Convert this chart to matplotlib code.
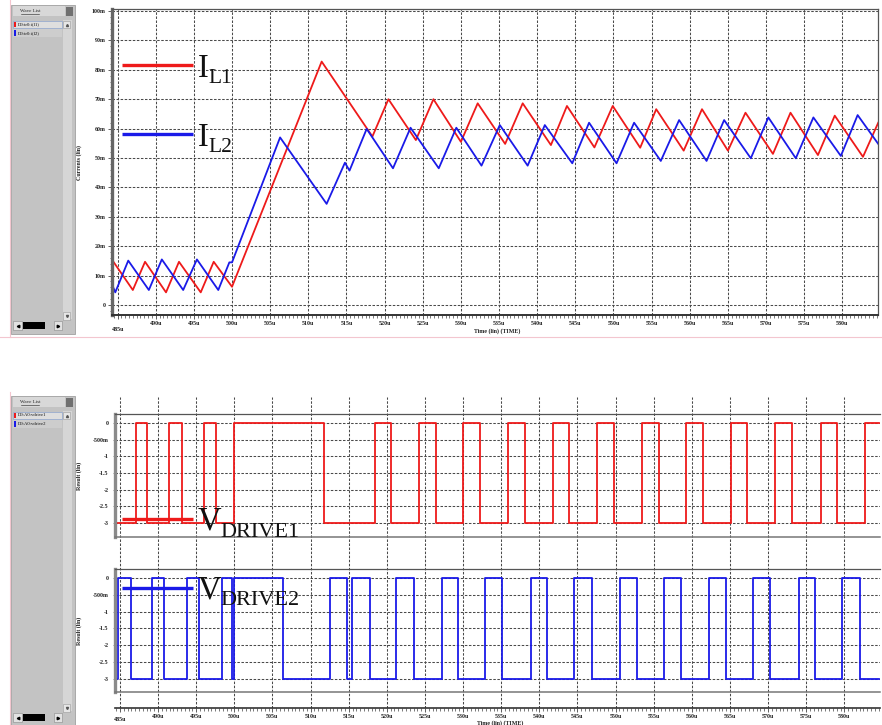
import matplotlib
matplotlib.use('Agg')
import matplotlib.pyplot as plt
from matplotlib.patches import Rectangle
from matplotlib.ticker import MultipleLocator

W, H = 882, 725

# ---- values (time in us, current in mA, voltage in V)
# inductor currents, corner points of the triangle waves
il1_t = [484.3, 487.0, 488.6, 491.35, 493.05, 495.9, 497.6, 500.0, 511.75, 518.4,
         520.5, 524.1, 526.4, 530.0, 532.2, 535.8, 538.1, 541.8, 543.9, 547.5,
         549.9, 553.5, 555.6, 559.2, 561.6, 565.0, 567.3, 570.9, 573.2, 576.8,
         579.0, 582.7, 584.7]
il1_i = [15.3, 5.1, 14.7, 4.3, 14.7, 4.3, 14.7, 6.2, 82.8, 57.3,
         70.0, 56.1, 70.0, 55.5, 68.6, 54.8, 68.6, 54.4, 67.7, 53.6,
         67.7, 53.5, 66.6, 52.5, 66.6, 52.5, 65.4, 51.4, 65.4, 51.0,
         64.4, 50.4, 62.0]

il2_t = [484.3, 484.7, 486.4, 489.1, 490.8, 493.6, 495.4, 498.2, 499.65, 500.0,
         506.3, 512.4, 514.8, 515.4, 517.65, 521.1, 523.4, 527.1, 529.4, 532.7,
         535.1, 538.75, 541.0, 544.6, 546.8, 550.4, 552.7, 556.2, 558.6, 562.2,
         564.5, 568.0, 570.3, 573.9, 576.2, 579.8, 582.0, 584.7]
il2_i = [6.8, 4.3, 15.1, 5.1, 15.5, 5.1, 15.5, 5.1, 14.5, 14.5,
         57.0, 34.4, 48.4, 45.7, 59.9, 46.5, 60.3, 46.5, 60.3, 47.4,
         61.2, 47.4, 61.2, 48.2, 62.0, 48.2, 62.0, 49.0, 62.9, 49.0,
         62.9, 49.9, 63.8, 49.9, 63.8, 50.7, 64.6, 54.8]

# gate drive edges (low = -3 V, high = 0 V)
drive1_rise = [487.07, 491.44, 496.0, 500.0, 518.45, 524.2, 530.0, 535.85, 541.85,
               547.6, 553.5, 559.3, 565.2, 570.95, 576.9, 582.75]
drive1_fall = [488.5, 493.1, 497.6, 511.76, 520.5, 526.4, 532.2, 538.1, 543.95,
               549.8, 555.65, 561.5, 567.3, 573.2, 579.0]
drive2_rise = [484.8, 489.25, 493.8, 498.35, 500.0, 512.55, 515.4, 521.2, 527.2,
               532.9, 538.9, 544.55, 550.55, 556.3, 562.2, 568.0, 574.0, 579.7]
drive2_fall = [486.45, 490.8, 495.4, 499.75, 506.4, 514.75, 517.8, 523.5, 529.4,
               535.15, 541.05, 546.9, 552.8, 558.6, 564.5, 570.3, 576.2, 582.0]

time_ticks = list(range(485, 581, 5))
time_labels = ['%du' % t for t in time_ticks]
cur_ticks = list(range(0, 101, 10))
cur_labels = ['0'] + ['%dm' % c for c in cur_ticks[1:]]
volt_ticks = [0, -0.5, -1, -1.5, -2, -2.5, -3]
volt_labels = ['0', '-500m', '-1', '-1.5', '-2', '-2.5', '-3']

RED = '#ee1a1a'
BLUE = '#1a1ae8'
GRID = dict(color='#4a4a4a', linestyle=(0, (2.4, 1.5)), linewidth=0.75)
TICKFONT = dict(family='Liberation Serif', weight='bold', size=4.3, color='#222')
SERIF = 'Liberation Serif'
LW = 1.3


def square_wave(rises, falls, t0, t1, lo=-3.0, hi=0.0):
    edges = sorted([(t, hi) for t in rises] + [(t, lo) for t in falls])
    t, v = [t0], [lo]
    for te, lvl in edges:
        t += [te, te]
        v += [v[-1], lvl]
    t.append(t1)
    v.append(v[-1])
    return t, v


def px_axes(fig, l, t, r, b, **kw):
    # axes placed by pixel box (left, top, right, bottom)
    return fig.add_axes([l / W, 1 - b / H, (r - l) / W, (b - t) / H], **kw)


def time_axis(ax, label_y):
    ax.set_xticks(time_ticks, [''] + time_labels[1:], **TICKFONT)
    ax.xaxis.set_minor_locator(MultipleLocator(0.5))
    # first label sits a little lower in the original viewer
    ax.text(time_ticks[0], label_y, time_labels[0], transform=ax.get_xaxis_transform(),
            ha='center', va='top', **TICKFONT)


def wave_list(cv, y0, y1, names, colors):
    cv.add_patch(Rectangle((11, y0), 64, y1 - y0, fc='#c3c3c3', ec='#a0a0a0', lw=0.6))
    cv.add_patch(Rectangle((12.5, y0 + 1), 52, 10, fc='#d8d8d8', ec='none'))
    cv.text(30, y0 + 6, 'Wave List', fontsize=3.6, family=SERIF, ha='center',
            va='center', color='#222')
    cv.plot([21, 39], [y0 + 8.6] * 2, color='#222', lw=0.4)
    cv.add_patch(Rectangle((66, y0 + 1.5), 7, 9, fc='#707070', ec='none'))
    cv.add_patch(Rectangle((62.5, y0 + 15), 9.5, y1 - y0 - 30, fc='#d6d6d6', ec='none'))
    for k, (name, col) in enumerate(zip(names, colors)):
        ry = y0 + 15.5 + k * 8.5
        cv.add_patch(Rectangle((13, ry), 49, 7.5, fc='#dedede' if k == 0 else '#cdcdcd',
                               ec='#8fa6cf' if k == 0 else 'none', lw=0.5))
        cv.add_patch(Rectangle((13.5, ry + 1), 2.8, 5.5, fc=col, ec='none'))
        cv.text(17.5, ry + 3.9, name, fontsize=3.4, family=SERIF, va='center', color='#111')
    cv.add_patch(Rectangle((63, y0 + 16), 7, 7, fc='#e6e6e6', ec='#999999', lw=0.4))
    cv.plot([66.5], [y0 + 19.5], marker='^', ms=1.5, color='#555')
    cv.add_patch(Rectangle((63, y1 - 22), 7, 8, fc='#e6e6e6', ec='#999999', lw=0.4))
    cv.plot([66.5], [y1 - 18], marker='v', ms=1.5, color='#555')
    by = y1 - 13
    cv.add_patch(Rectangle((13, by), 9, 9, fc='#e2e2e2', ec='#8a8a8a', lw=0.4))
    cv.add_patch(Rectangle((22.5, by + 1), 22, 7, fc='black', ec='none'))
    cv.add_patch(Rectangle((54, by), 8, 9, fc='#e2e2e2', ec='#8a8a8a', lw=0.4))
    cv.plot([17.5], [by + 4.5], marker='<', ms=1.8, color='black')
    cv.plot([58], [by + 4.5], marker='>', ms=1.8, color='black')


fig = plt.figure(figsize=(W / 100, H / 100), dpi=100)

# ---------------- top: inductor currents ----------------
ax = px_axes(fig, 112, 9, 878, 315)
ax.plot(il1_t, il1_i, color=RED, lw=LW)
ax.plot(il2_t, il2_i, color=BLUE, lw=LW)
ax.set_xlim(484.27, 584.67)
ax.set_ylim(-3.4, 100.68)
ax.set_yticks(cur_ticks, cur_labels, **TICKFONT)
ax.yaxis.set_minor_locator(MultipleLocator(2))
time_axis(ax, -0.04)
ax.grid(True, which='major', **GRID)
ax.tick_params(which='major', length=3, width=0.6, color='#444', pad=1.5)
ax.tick_params(which='minor', length=1.8, width=0.5, color='#444')
ax.spines['left'].set(linewidth=2.4, color='#666')
ax.spines['bottom'].set(linewidth=1.4, color='#333')
ax.spines['top'].set(linewidth=0.9, color='#555')
ax.spines['right'].set(linewidth=0.9, color='#555')
ax.set_ylabel('Currents (lin)', fontsize=4.3, family=SERIF, weight='bold', color='#222')
ax.yaxis.set_label_coords(-0.039, 0.5)
ax.set_xlabel('Time (lin) (TIME)', fontsize=4.3, family=SERIF, weight='bold', color='#222')
ax.xaxis.set_label_coords(0.503, -0.044)

# ---------------- bottom: drive voltages ----------------
ax_o = px_axes(fig, 115, 397, 880, 708)
ax_o.set_xlim(484.35, 584.68)
ax_o.set_ylim(0, 1)
ax_o.set_yticks([])
time_axis(ax_o, -0.028)
ax_o.grid(True, axis='x', which='major', **GRID)
ax_o.tick_params(axis='x', which='major', length=3, width=0.6, color='#444', pad=1.5)
ax_o.tick_params(axis='x', which='minor', length=1.8, width=0.5, color='#444')
for s in ('top', 'left', 'right'):
    ax_o.spines[s].set_visible(False)
ax_o.spines['bottom'].set(linewidth=1.2, color='#333')
ax_o.set_xlabel('Time (lin) (TIME)', fontsize=4.3, family=SERIF, weight='bold', color='#222')
ax_o.xaxis.set_label_coords(0.503, -0.038)

panels = [((414, 537), (-3.42, 0.27), (drive1_rise, drive1_fall), RED),
          ((569, 692), (-3.386, 0.267), (drive2_rise, drive2_fall), BLUE)]
for (top, bot), ylim, (rises, falls), col in panels:
    axp = px_axes(fig, 115, top, 880, bot)
    axp.patch.set_alpha(0)
    t, v = square_wave(rises, falls, 484.3, 584.6)
    axp.plot(t, v, color=col, lw=LW)
    axp.set_xlim(484.35, 584.68)
    axp.set_ylim(*ylim)
    axp.set_xticks([])
    axp.set_yticks(volt_ticks, volt_labels, **TICKFONT)
    axp.grid(True, axis='y', **GRID)
    axp.tick_params(axis='y', length=1.5, width=0.5, color='#666', pad=3)
    axp.spines['right'].set_visible(False)
    axp.spines['left'].set(linewidth=2.4, color='#8a8a8a')
    axp.spines['top'].set(linewidth=0.9, color='#555')
    axp.spines['bottom'].set(linewidth=1.1, color='#777')
    axp.set_ylabel('Result (lin)', fontsize=4.3, family=SERIF, weight='bold', color='#222')
    axp.yaxis.set_label_coords(-0.043, 0.5)

# ---------------- overlay: viewer panels, frame lines, labels ----------------
cv = fig.add_axes([0, 0, 1, 1], zorder=10)
cv.set_xlim(0, W)
cv.set_ylim(H, 0)
cv.axis('off')
cv.patch.set_alpha(0)

wave_list(cv, 5, 334, ['D0:tr0:i(l1)', 'D0:tr0:i(l2)'], [RED, BLUE])
wave_list(cv, 396, 726, ['D0:A0:vdrive1', 'D0:A0:vdrive2'], [RED, BLUE])
cv.plot([0, W], [336.5, 336.5], color='#f3c6cf', lw=0.8)
cv.plot([9.5, 9.5], [0, 337], color='#f3c6cf', lw=0.8)
cv.plot([9.5, 9.5], [392, H], color='#f3c6cf', lw=0.8)

labels = [(65.3, 76.7, 82.7, 'I', 'L1', RED, 208.5, 15.5),
          (134.3, 145.7, 151.7, 'I', 'L2', BLUE, 208.5, 15.5),
          (519.0, 530.0, 536.7, 'V', 'DRIVE1', RED, 220.5, 16),
          (588.0, 598.5, 605.0, 'V', 'DRIVE2', BLUE, 220.5, 16)]
for ly, base, sub_base, big, sub, col, sub_x, sub_size in labels:
    cv.plot([121.7, 193], [ly, ly], color=col, lw=2.4, solid_capstyle='butt')
    cv.text(197.5, base, big, fontsize=23.5, family=SERIF, va='baseline', color='#111')
    cv.text(sub_x, sub_base, sub, fontsize=sub_size, family=SERIF, va='baseline', color='#111')

fig.savefig('out.png', dpi=100)
